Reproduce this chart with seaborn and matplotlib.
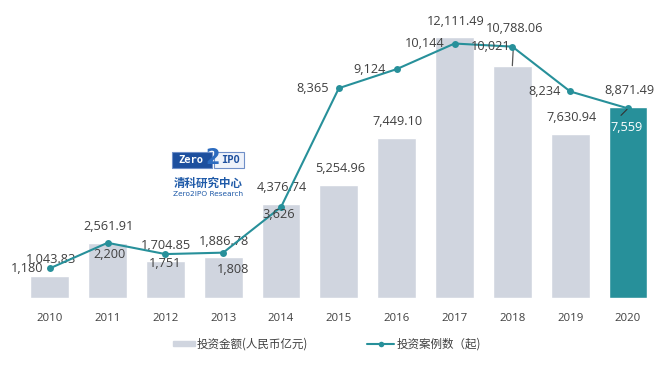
import numpy as np
import pandas as pd
import matplotlib
matplotlib.use("Agg")
import matplotlib.pyplot as plt
from matplotlib.patches import Rectangle
import seaborn as sns

years = ["2010", "2011", "2012", "2013", "2014", "2015", "2016", "2017", "2018", "2019", "2020"]
amount = [1043.83, 2561.91, 1704.85, 1886.78, 4376.74, 5254.96, 7449.10, 12111.49, 10788.06, 7630.94, 8871.49]
amount_labels = ["1,043.83", "2,561.91", "1,704.85", "1,886.78", "4,376.74", "5,254.96",
                 "7,449.10", "12,111.49", "10,788.06", "7,630.94", "8,871.49"]
cases = [1180, 2200, 1751, 1808, 3626, 8365, 9124, 10144, 10021, 8234, 7559]
case_labels = ["1,180", "2,200", "1,751", "1,808", "3,626", "8,365", "9,124",
               "10,144", "10,021", "8,234", "7,559"]
legend_bar = "投资金额(人民币亿元)"
legend_line = "投资案例数（起)"

GRAY = "#d0d5df"
TEAL = "#27909a"
TXT = "#404040"

sns.set_theme(style="white")
plt.rcParams["font.family"] = ["Open Sans", "Noto Sans CJK SC", "DejaVu Sans"]

fig = plt.figure(figsize=(6.71, 3.67), dpi=100)
ax = fig.add_axes([0.031, 0.188, 0.948, 0.757])
ax2 = ax.twinx()

df = pd.DataFrame({"year": years, "amount": amount, "cases": cases})
colors = [GRAY] * (len(years) - 1) + [TEAL]
sns.barplot(data=df, x="year", y="amount", hue="year", palette=colors, legend=False,
            width=0.67, ax=ax, saturation=1)
df["pos"] = np.arange(len(years))
sns.lineplot(data=df, x="pos", y="cases", ax=ax2, color=TEAL, lw=1.5,
             marker="o", markersize=5, markeredgewidth=0)

ax.set_xlim(-0.5, len(years) - 0.5)
ax.set_ylim(0, 12900)
ax2.set_ylim(0, 11075)
for a in (ax, ax2):
    for s in a.spines.values():
        s.set_visible(False)
    a.set_yticks([])
    a.set_ylabel("")
ax.set_xlabel("")
ax.tick_params(axis="x", length=0, pad=11, labelsize=8.2, labelcolor=TXT)
ax2.set_xlabel("")

FS = 9.2
# bar value labels
bar_off = [(1, 16)] * len(years)
bar_off[8] = (2, 37)
for i, (v, lab) in enumerate(zip(amount, amount_labels)):
    dx, dy = bar_off[i]
    kw = {}
    if i == 8:
        kw = dict(arrowprops=dict(arrowstyle="-", color="#555555", lw=0.9, shrinkA=6, shrinkB=0))
    ax.annotate(lab, xy=(i, v), xytext=(dx, dy), textcoords="offset pixels",
                ha="center", va="center", fontsize=FS, color=TXT, zorder=5, **kw)

# line value labels
line_off = [(-6, 0, "right"), (2, -12, "center"), (0, -9, "center"), (10, -17, "center"),
            (-2, -7, "center"), (-10, 0, "right"), (-11, 0, "right"), (-10, 0, "right"),
            (-2, 0, "right"), (-9, 0, "right"), (-1, -19, "center")]
for i, (v, lab) in enumerate(zip(cases, case_labels)):
    dx, dy, ha = line_off[i]
    col = "white" if i == len(years) - 1 else TXT
    ax2.annotate(lab, xy=(i, v), xytext=(dx, dy), textcoords="offset pixels",
                 ha=ha, va="center", fontsize=FS, color=col, zorder=6)
# small leader for last line label
ax2.annotate("", xy=(len(years) - 1, cases[-1]), xytext=(-7, -7), textcoords="offset pixels",
             arrowprops=dict(arrowstyle="-", color="#333333", lw=0.8, shrinkA=0, shrinkB=1))

# legend
fig.patches.append(Rectangle((173 / 671, 1 - 346 / 367), 22 / 671, 5 / 367,
                             transform=fig.transFigure, color=GRAY))
fig.text(197 / 671, 1 - 344 / 367, legend_bar, fontsize=8.3, color=TXT, va="center",
         family=["Noto Sans CJK SC", "DejaVu Sans"])
fig.lines.append(plt.Line2D([367 / 671, 394 / 671], [1 - 344 / 367] * 2,
                            transform=fig.transFigure, color=TEAL, lw=1.5))
fig.lines.append(plt.Line2D([380.5 / 671], [1 - 344 / 367], transform=fig.transFigure,
                            color=TEAL, marker="o", markersize=4, markeredgewidth=0))
fig.text(397 / 671, 1 - 344 / 367, legend_line, fontsize=8.3, color=TXT, va="center",
         family=["Noto Sans CJK SC", "DejaVu Sans"])

# logo
BLUE = "#1d4f9e"
fig.patches.append(Rectangle((172 / 671, 1 - 168 / 367), 40 / 671, 16 / 367,
                             transform=fig.transFigure, facecolor=BLUE, edgecolor="#6f8fc8", lw=0.8))
fig.patches.append(Rectangle((214 / 671, 1 - 168 / 367), 30 / 671, 16 / 367,
                             transform=fig.transFigure, facecolor="#eef2fa", edgecolor="#6f8fc8", lw=0.8))
fig.text(191 / 671, 1 - 160 / 367, "Zero", fontsize=7.5, color="white", weight="bold",
         ha="center", va="center", family="DejaVu Sans Mono")
fig.text(230 / 671, 1 - 160 / 367, "IPO", fontsize=7.5, color=BLUE, weight="bold",
         ha="center", va="center", family="DejaVu Sans Mono")
fig.text(213 / 671, 1 - 158 / 367, "2", fontsize=15, color="#2c6bbf", weight="bold",
         ha="center", va="center", family="DejaVu Sans")
fig.text(208 / 671, 1 - 183 / 367, "清科研究中心", fontsize=8.3, color="#1f5aa8", weight="bold",
         ha="center", va="center", family=["Noto Sans CJK SC"])
fig.text(208 / 671, 1 - 194 / 367, "Zero2IPO Research", fontsize=5.3, color="#1f5aa8",
         ha="center", va="center", family="DejaVu Sans")

fig.savefig("out.png", dpi=100, facecolor="white")
